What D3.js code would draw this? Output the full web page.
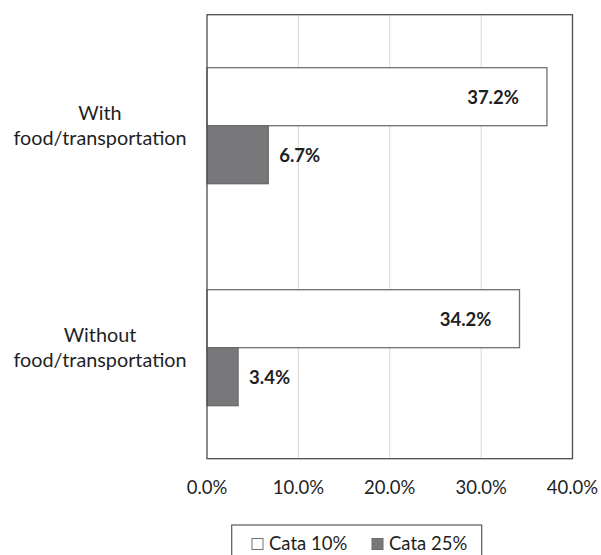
<!DOCTYPE html>
<html>
<head>
<meta charset="utf-8">
<script src="https://cdn.jsdelivr.net/npm/d3@7"></script>
<style>
  body { margin: 0; background: #fff; }
  svg text { font-family: Lato, "Open Sans", sans-serif; fill: #1f1f1f; }
</style>
</head>
<body>
<div id="chart"></div>
<script>
// data
const categories = ["With food/transportation", "Without food/transportation"];
const categoryLines = [["With", "food/transportation"], ["Without", "food/transportation"]];
const seriesNames = ["Cata 10%", "Cata 25%"];
const cata10 = [37.2, 34.2];
const cata25 = [6.7, 3.4];
const xTicks = [0, 10, 20, 30, 40];

const seriesValues = [cata10, cata25];
const seriesFill = ["#ffffff", "#78787b"];
const seriesStroke = ["#707070", "#6a6a6a"];

const width = 601, height = 555;
const plot = {left: 207, right: 572.5, top: 14.7, bottom: 458.7};

const svg = d3.select("#chart").append("svg")
    .attr("width", width)
    .attr("height", height);

const x = d3.scaleLinear().domain([0, 40]).range([plot.left, plot.right]);
const y = d3.scaleBand().domain(categories).range([plot.top, plot.bottom]);
const ySub = d3.scaleBand().domain(seriesNames).range([0, y.bandwidth()])
    .paddingInner(0).paddingOuter(0.914);

// gridlines
svg.append("g").selectAll("line")
    .data(xTicks.filter(t => t > 0 && t < 40))
    .join("line")
    .attr("x1", d => x(d)).attr("x2", d => x(d))
    .attr("y1", plot.top).attr("y2", plot.bottom)
    .attr("stroke", "#d9d9d9").attr("stroke-width", 1);

// tick labels
svg.append("g").selectAll("text")
    .data(xTicks)
    .join("text")
    .attr("x", d => x(d))
    .attr("y", 494)
    .attr("text-anchor", "middle")
    .attr("font-size", 18.5)
    .text(d => d3.format(".1f")(d) + "%");

// bars
const rows = [];
categories.forEach((c, i) => {
    seriesNames.forEach((s, j) => {
        rows.push({cat: c, series: s, j, value: seriesValues[j][i]});
    });
});

svg.append("g").selectAll("rect")
    .data(rows)
    .join("rect")
    .attr("x", x(0))
    .attr("y", d => y(d.cat) + ySub(d.series))
    .attr("width", d => x(d.value) - x(0))
    .attr("height", ySub.bandwidth())
    .attr("fill", d => seriesFill[d.j])
    .attr("stroke", d => seriesStroke[d.j])
    .attr("stroke-width", 1.3);

// value labels: white bars inside end, grey bars outside end
svg.append("g").selectAll("text")
    .data(rows)
    .join("text")
    .attr("x", d => d.j === 0 ? x(d.value) - 28 : x(d.value) + 11)
    .attr("y", d => y(d.cat) + ySub(d.series) + ySub.bandwidth() / 2 + 7)
    .attr("text-anchor", d => d.j === 0 ? "end" : "start")
    .attr("font-size", 18.5)
    .attr("font-weight", "bold")
    .text(d => d.value.toFixed(1) + "%");

// plot border
svg.append("rect")
    .attr("x", plot.left).attr("y", plot.top)
    .attr("width", plot.right - plot.left)
    .attr("height", plot.bottom - plot.top)
    .attr("fill", "none")
    .attr("stroke", "#4d4d4d")
    .attr("stroke-width", 1.3);

// category labels
const catG = svg.append("g").selectAll("text")
    .data(categories)
    .join("text")
    .attr("text-anchor", "middle")
    .attr("font-size", 19.8);
catG.each(function(d, i) {
    const cy = y(d) + y.bandwidth() / 2;
    d3.select(this).selectAll("tspan")
        .data(categoryLines[i])
        .join("tspan")
        .attr("x", 100)
        .attr("y", (t, k) => cy - 5.5 + k * 25)
        .text(t => t);
});

// legend
const legend = svg.append("g");
legend.append("rect")
    .attr("x", 231.7).attr("y", 525)
    .attr("width", 250).attr("height", 40)
    .attr("fill", "#fff")
    .attr("stroke", "#595959")
    .attr("stroke-width", 1.2);
const itemX = [252, 372];
seriesNames.forEach((s, j) => {
    legend.append("rect")
        .attr("x", itemX[j]).attr("y", 538.5)
        .attr("width", 11).attr("height", 11)
        .attr("fill", seriesFill[j])
        .attr("stroke", seriesStroke[j]);
    legend.append("text")
        .attr("x", itemX[j] + 17).attr("y", 550)
        .attr("font-size", 18.5)
        .text(s);
});
</script>
</body>
</html>
